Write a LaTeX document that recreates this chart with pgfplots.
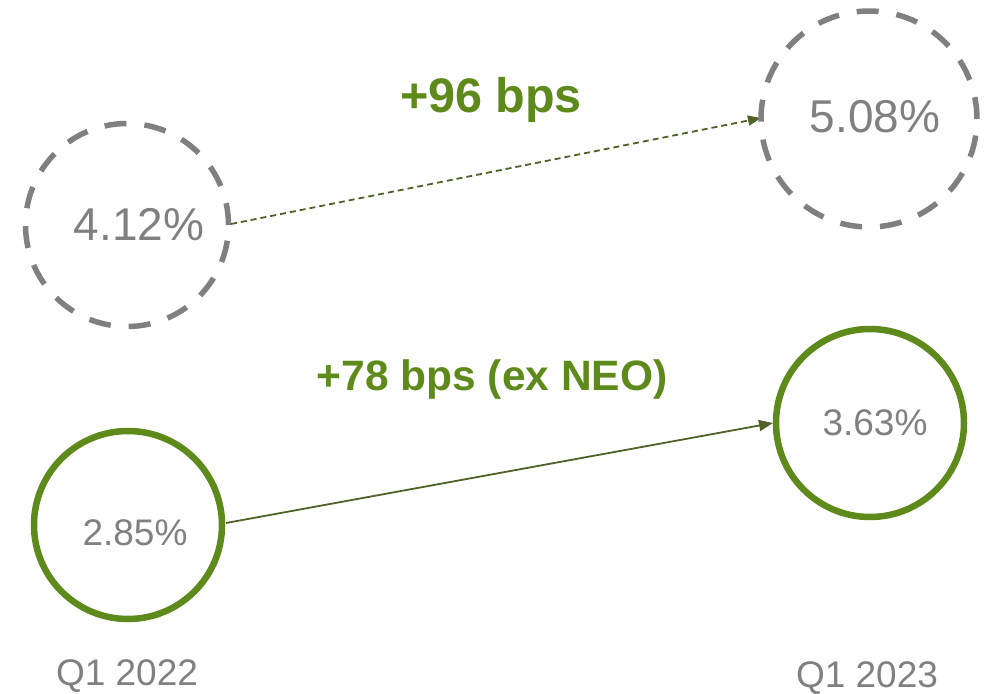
\documentclass[border=0pt]{standalone}
\usepackage{pgfplots}
\pgfplotsset{compat=1.18}
\usepackage{fontspec}
\setmainfont{Liberation Sans}
\usetikzlibrary{arrows.meta}
\definecolor{cgray}{RGB}{128,128,128}
\definecolor{cgreen}{RGB}{94,138,27}
\definecolor{colive}{RGB}{79,98,40}
\begin{document}
\begin{tikzpicture}
\begin{axis}[
  scale only axis, width=989pt, height=692pt,
  xmin=0, xmax=989, ymin=0, ymax=692, y dir=reverse,
  hide axis, clip=false]
% arrows
\addplot[colive, line width=1.8pt, dash pattern=on 6pt off 4pt,
  -{Triangle[length=13pt,width=10pt]}] coordinates {(231,224) (761,118)};
\addplot[colive, line width=1.8pt,
  -{Triangle[length=14pt,width=11pt]}] coordinates {(226,523) (773,423)};
% dashed circles
\addplot[only marks, mark=o, mark size=101.5pt,
  mark options={draw=cgray, line width=5.5pt, dash pattern=on 22pt off 18pt}] coordinates {(127,225)};
\addplot[only marks, mark=o, mark size=108pt,
  mark options={draw=cgray, line width=5.5pt, dash pattern=on 22pt off 18pt}] coordinates {(869,119)};
% solid circles
\addplot[only marks, mark=o, mark size=94pt,
  mark options={draw=cgreen, line width=6.5pt, solid}] coordinates {(128,525) (870,423)};
% labels
\node[anchor=base, text=cgray, font=\fontsize{46}{50}\selectfont, inner sep=0pt] at (axis cs:139,240) {4.12\%};
\node[anchor=base, text=cgray, font=\fontsize{46}{50}\selectfont, inner sep=0pt] at (axis cs:875,132) {5.08\%};
\node[anchor=base, text=cgray, font=\fontsize{37}{40}\selectfont, inner sep=0pt] at (axis cs:135,545) {2.85\%};
\node[anchor=base, text=cgray, font=\fontsize{37}{40}\selectfont, inner sep=0pt] at (axis cs:875,435) {3.63\%};
\node[anchor=base, text=cgray, font=\fontsize{37}{40}\selectfont, inner sep=0pt] at (axis cs:127,685) {Q1 2022};
\node[anchor=base, text=cgray, font=\fontsize{37}{40}\selectfont, inner sep=0pt] at (axis cs:867,687) {Q1 2023};
\node[anchor=base, text=cgreen, font=\bfseries\fontsize{48.5}{52}\selectfont, inner sep=0pt] at (axis cs:491,112) {+96 bps};
\node[anchor=base, text=cgreen, font=\bfseries\fontsize{42.5}{46}\selectfont, inner sep=0pt] at (axis cs:492,390) {+78 bps (ex NEO)};
\end{axis}
\path (current axis.south west) rectangle (current axis.north east);
\end{tikzpicture}
\end{document}
